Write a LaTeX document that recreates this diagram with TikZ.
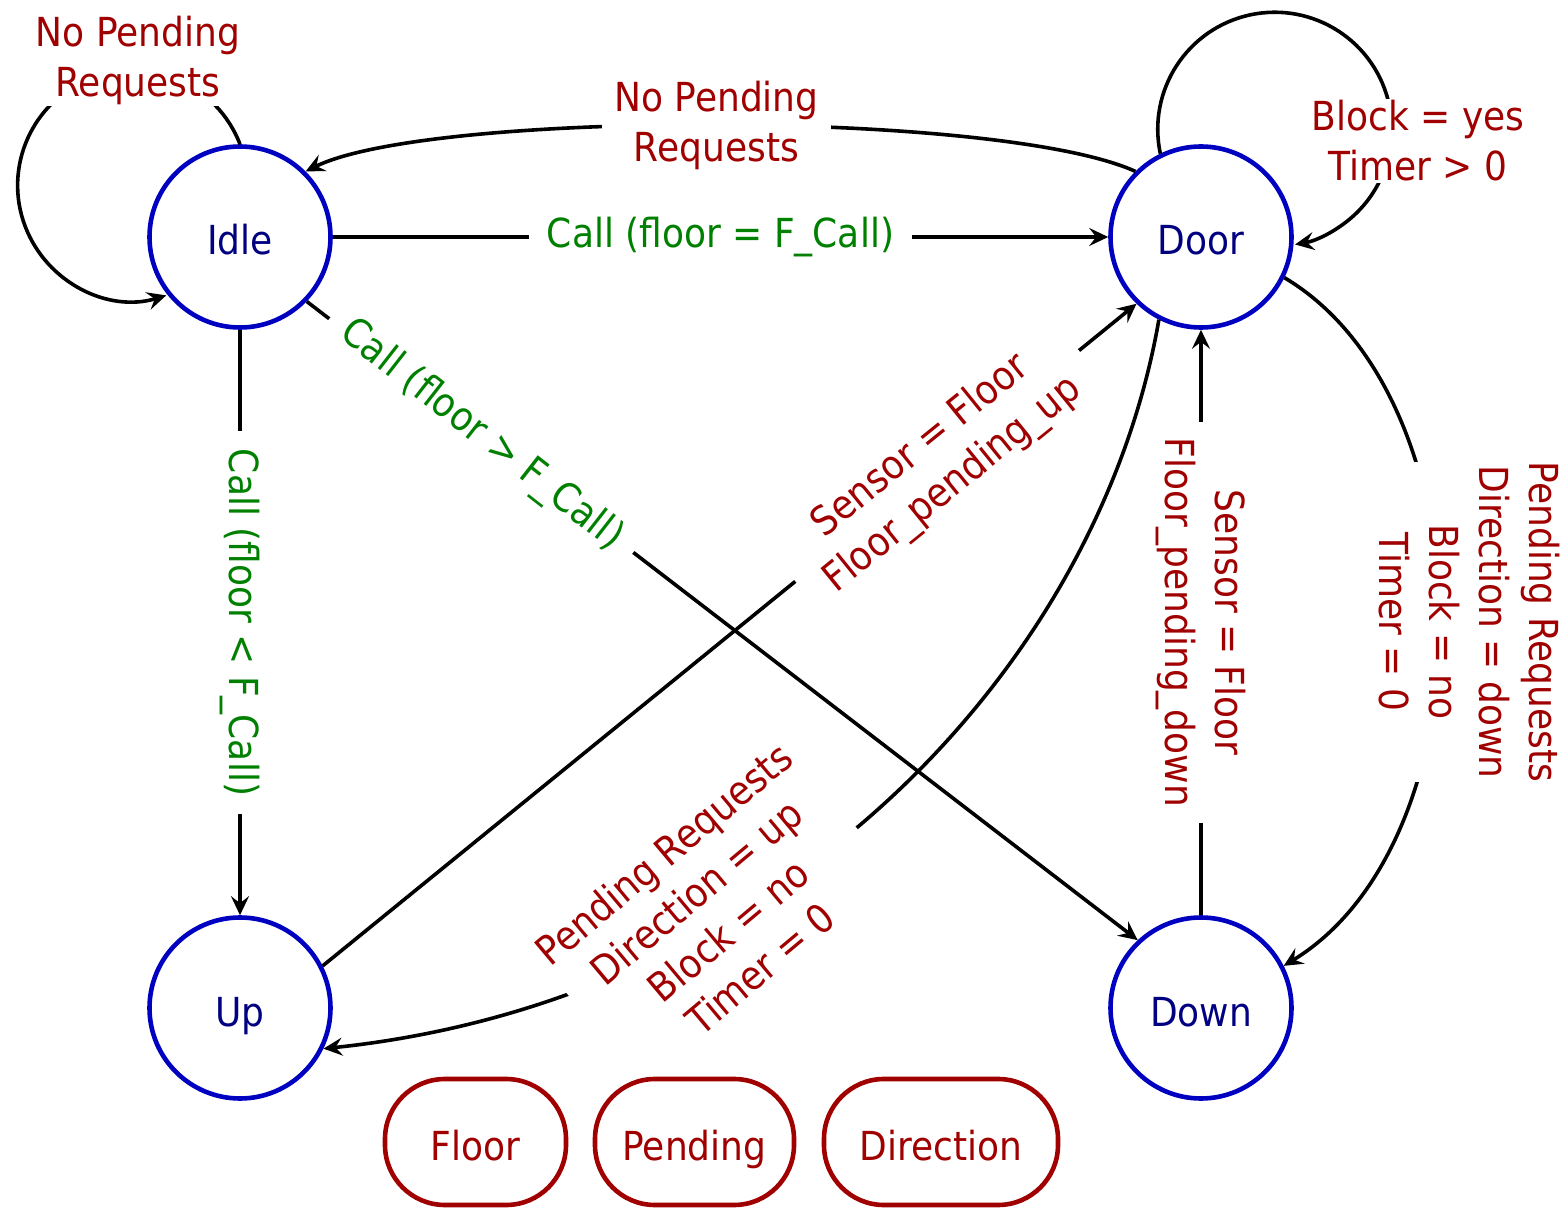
\documentclass[tikz,border=0pt]{standalone}
\usepackage{fontspec}
\setmainfont{DejaVu Sans}[FakeStretch=0.9]
\usetikzlibrary{arrows.meta}
\definecolor{condred}{HTML}{A00000}
\definecolor{callgreen}{HTML}{008000}
\definecolor{ringblue}{HTML}{0000C0}
\definecolor{namenavy}{HTML}{000080}
\begin{document}
\begin{tikzpicture}[x=0.5pt,y=0.5pt,
  font=\fontsize{20}{25}\selectfont,
  state/.style={circle, draw=ringblue, line width=2.3pt, minimum size=90.5pt,
    inner sep=0pt, text=namenavy, text height=20pt, text depth=2pt},
  var/.style={draw=condred, line width=2.3pt, rounded corners=30pt,
    minimum height=63pt, inner sep=0pt, text=condred,
    text height=20pt, text depth=2pt},
  edge/.style={line width=1.8pt, -{Stealth[length=9.5pt,width=9pt,inset=3.5pt]}},
  cond/.style={text=condred, fill=white, align=center, inner xsep=6pt, inner ysep=1pt},
  call/.style={text=callgreen, fill=white, inner xsep=9pt, inner ysep=1pt}]
\useasboundingbox (0,0) rectangle (1565,-1208);

% states
\node[state] (idle) at (240,-237) {Idle};
\node[state] (door) at (1201,-237) {Door};
\node[state] (up)   at (240,-1008) {Up};
\node[state] (down) at (1201,-1008) {Down};

% transitions out of Idle
\draw[edge] (idle.east) -- node[call] {Call (floor = F\_Call)} (door.west);
\draw[edge] (idle.south) -- node[call, rotate=-90] {Call (floor < F\_Call)} (up.north);
\draw[edge] (idle.-44) -- node[call, pos=0.21, rotate=-38] {Call (floor > F\_Call)} (down.133);

% transitions into Door
\draw[edge] (up.27) -- node[cond, pos=0.755, rotate=39, inner xsep=12pt]
  {Sensor = Floor\\Floor\_pending\_up} (door.226);
\draw[edge] (down.north) -- node[cond, rotate=-90, inner xsep=8pt]
  {Sensor = Floor\\Floor\_pending\_down} (door.south);

% Door back to Idle
\draw[edge] (door.135) .. controls (1000,-110) and (430,-110) ..
  node[cond] {No Pending\\Requests} (idle.45);

% self loops
\draw[edge] (idle.90) arc[start angle=21, end angle=287, radius=57.5pt];
\node[cond] (idlelbl) at (138,-60) {No Pending\\Requests};
\draw[edge] (door.116) arc[start angle=192, end angle=-80, radius=58.5pt];
\node[cond] (doorlbl) at (1418,-141) {Block = yes\\Timer > 0};

% Door to Down / Up when requests are pending
\draw[edge] (door.-26) .. controls (1490,-400) and (1490,-840) .. (down.27);
\node[cond, rotate=-90, inner xsep=0pt] (downlbl) at (1469,-622)
  {Pending Requests\\Direction = down\\Block = no\\Timer = 0};
\draw[edge] (door.243) .. controls (1100,-660) and (790,-1000) .. (up.-26);
\node[cond, rotate=40, inner xsep=2pt, inner ysep=0pt] (uplbl) at (712,-911)
  {Pending Requests\\Direction = up\\Block = no\\Timer = 0};

% variables
\node[var, minimum width=90.5pt]  (floor)     at (475.5,-1142) {Floor};
\node[var, minimum width=99.5pt]  (pending)   at (694.5,-1142) {Pending};
\node[var, minimum width=117pt]   (direction) at (941,-1142)   {Direction};
\end{tikzpicture}
\end{document}
